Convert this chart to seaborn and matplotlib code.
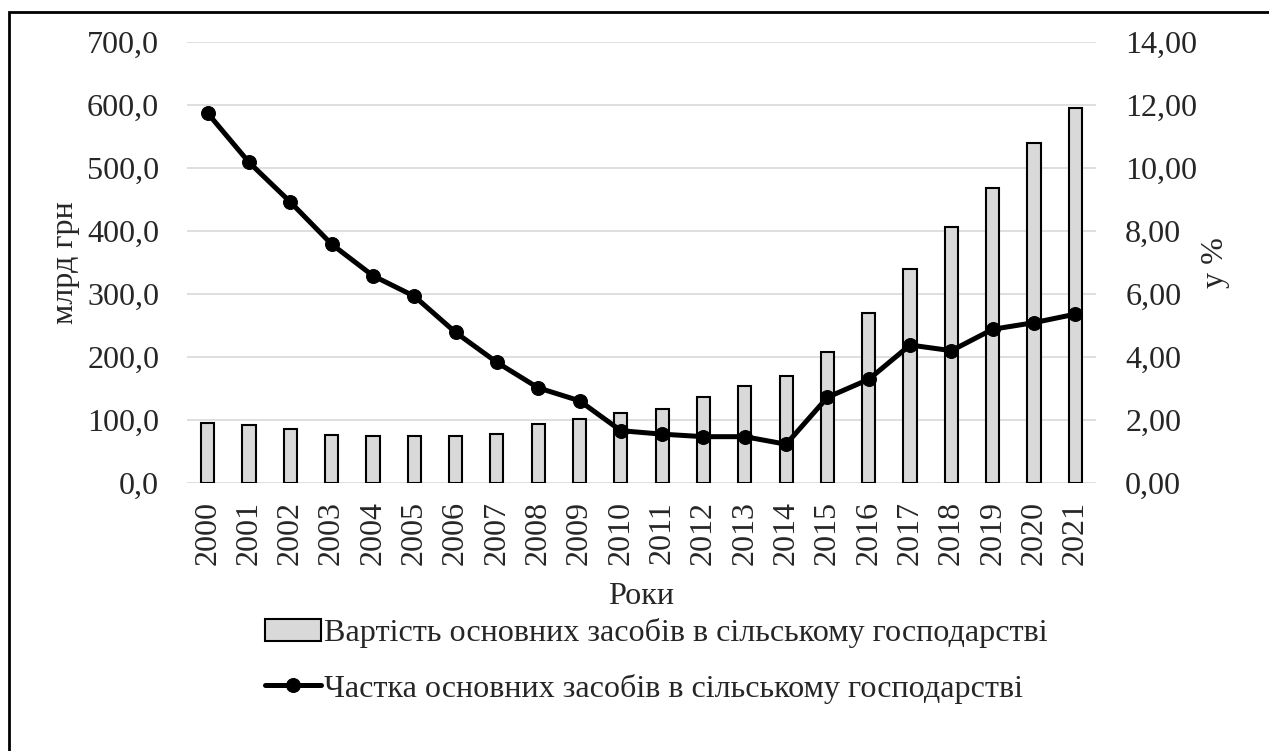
import numpy as np
import matplotlib as mpl
import matplotlib.pyplot as plt
import seaborn as sns
import pandas as pd
from matplotlib.patches import Rectangle
from matplotlib.ticker import FuncFormatter

years = [str(y) for y in range(2000, 2022)]
# вартість основних засобів, млрд грн
value = [96.2, 92.5, 85.7, 77.2, 75.1, 75.6, 75.0, 78.3, 94.6, 102.0, 111.6,
         117.4, 136.5, 154.9, 170.3, 209.0, 269.8, 340.7, 406.8, 468.7, 540.2, 595.7]
# частка основних засобів, %
share = [11.75, 10.19, 8.93, 7.59, 6.59, 5.94, 4.79, 3.84, 3.03, 2.62, 1.67,
         1.56, 1.48, 1.48, 1.24, 2.73, 3.30, 4.39, 4.21, 4.89, 5.10, 5.37]

bar_label = 'Вартість основних засобів в сільському господарстві'
line_label = 'Частка основних засобів в сільському господарстві'

df = pd.DataFrame({'year': years, 'value': value, 'share': share})
df['pos'] = np.arange(len(years))

sns.set_style('white')
plt.rcParams['font.family'] = ['Liberation Serif', 'DejaVu Serif']
fs = 23.1

fig = plt.figure(figsize=(12.69, 7.51), dpi=100)
ax = fig.add_axes([187/1269, 1-483.3/751, (1096-187)/1269, (483.3-42.3)/751])

sns.barplot(data=df, x='year', y='value', ax=ax, color='#d9d9d9',
            edgecolor='black', linewidth=1.5, width=0.32, saturation=1,
            label=bar_label)
if ax.get_legend() is not None:
    ax.get_legend().remove()
ax.set_ylim(0, 700)
ax.set_yticks(np.arange(0, 701, 100))
ax.yaxis.set_major_formatter(FuncFormatter(lambda v, p: f'{v:.1f}'.replace('.', ',')))
ax.grid(axis='y', color='#d9d9d9', linewidth=1.2)
ax.set_axisbelow(True)
ax.set_xlim(-0.5, len(years) - 0.5)
for s in ax.spines.values():
    s.set_visible(False)
ax.tick_params(axis='y', length=0, labelsize=fs, pad=20)
ax.tick_params(axis='x', length=0, labelsize=fs, pad=13)
plt.setp(ax.get_xticklabels(), rotation=90)
ax.set_xlabel('Роки', fontsize=fs, labelpad=12)
ax.set_ylabel('млрд грн', fontsize=fs, labelpad=5)

ax2 = ax.twinx()
sns.lineplot(data=df, x='pos', y='share', ax=ax2, color='black', linewidth=3.6,
             marker='o', markersize=10, markeredgecolor='black', label=line_label,
             legend=False)
ax2.set_ylim(0, 14)
ax2.set_yticks(np.arange(0, 15, 2))
ax2.yaxis.set_major_formatter(FuncFormatter(lambda v, p: f'{v:.2f}'.replace('.', ',')))
for s in ax2.spines.values():
    s.set_visible(False)
ax2.tick_params(axis='y', length=0, labelsize=fs, pad=21)
ax2.set_ylabel('у %', fontsize=fs, labelpad=3)
ax.set_xlim(-0.5, len(years) - 0.5)

h1, l1 = ax.get_legend_handles_labels()
h2, l2 = ax2.get_legend_handles_labels()
fig.legend(h1 + h2, l1 + l2, loc='upper left', bbox_to_anchor=(265/1269, 1-618/751),
           frameon=False, fontsize=fs, handlelength=1.75, handletextpad=0.1,
           labelspacing=0.8, borderpad=0, borderaxespad=0)

fig.add_artist(Rectangle((8.5/1269, -0.2), 1.2, 1.2 - 11.5/751, transform=fig.transFigure,
                         fill=False, edgecolor='black', linewidth=2))

fig.savefig('out.png', dpi=100)
